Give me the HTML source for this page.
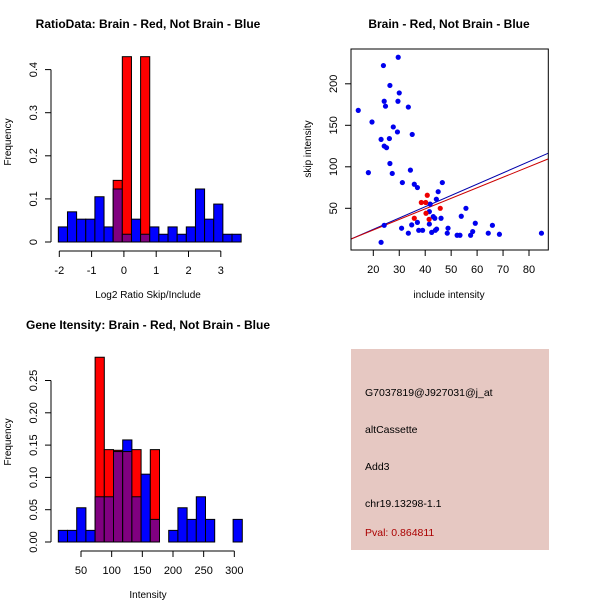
<!DOCTYPE html>
<html><head><meta charset="utf-8"><style>
body{margin:0;background:#fff}
svg{display:block;font-family:"Liberation Sans",sans-serif}
</style></head><body>
<svg id="c" width="600" height="600" viewBox="0 0 600 600">
<rect width="600" height="600" fill="#fff"/>
</svg>
<script>
// Panel 1: ratio histogram
const ratioBinStart = -2.03;
const ratioBinWidth = 0.283;
const ratioBlue = [0.035,0.07,0.053,0.053,0.105,0.035,0.123,0.018,0.053,0.018,0.035,0.018,0.035,0.018,0.035,0.123,0.053,0.088,0.018,0.018];
const ratioRed  = [0,0,0,0,0,0,0.143,0.43,0,0.43,0,0,0,0,0,0,0,0,0,0];
const ratioXTicks = [-2,-1,0,1,2,3];
const ratioYTicks = [0,0.1,0.2,0.3,0.4];
// Panel 3: intensity histogram
const intBinStart = 13;
const intBinWidth = 15;
const intBlue = [0.018,0.018,0.053,0.018,0.07,0.07,0.14,0.158,0.07,0.105,0.035,0,0.018,0.053,0.035,0.07,0.035,0,0,0.035];
const intRed  = [0,0,0,0,0.286,0.143,0.142,0.14,0.143,0,0.143,0,0,0,0,0,0,0,0,0];
const intXTicks = [50,100,150,200,250,300];
const intYTicks = [0,0.05,0.10,0.15,0.20,0.25];
const intYLabels = ["0.00","0.05","0.10","0.15","0.20","0.25"];
// Panel 2: scatter
const notBrainX = [14.2,23.9,29.6,26.4,30,24.2,24.7,29.5,33.5,19.5,27.7,29.3,35,23,26.2,24.2,25.1,18.1,26.4,27.3,34.3,31.2,35.8,37,46.6,45,44.3,41.9,41.6,43.1,43.7,46.1,53.9,55.7,24.2,30.9,34.8,33.5,37,37.5,39,41.6,42.5,43.9,44.4,48.8,48.5,52.3,53.4,57.5,58.3,59.3,64.3,65.9,68.6,84.8,23];
const notBrainY = [168,222,232,198,189,179,173,179,172,154,148,142,139,133,134,125,123,93,104,92,96,81,79,75,81,70,61,55,46,40,38,38,40.4,50,29.5,26,30,20,33,23.5,23.5,31,21,23.5,25,26,20,17.5,17.5,17.5,22,32,20,29.5,18.7,20,9];
const brainX = [40.8,38.5,40.2,45.8,40.3,35.8,41.5];
const brainY = [65.7,57,57,50,44,38,36.7];
const fitBlue = [-2.5,1.36];
const fitRed = [-1.5,1.27];
const scXTicks = [20,30,40,50,60,70,80];
const scYTicks = [50,100,150,200];
const infoLines = ["G7037819@J927031@j_at","altCassette","Add3","chr19.13298-1.1"];
const pvalText = "Pval: 0.864811";

const svg = document.getElementById('c');
const NS = 'http://www.w3.org/2000/svg';
function mk(tag, attrs, parent){const e=document.createElementNS(NS,tag);for(const k in attrs)e.setAttribute(k,attrs[k]);(parent||svg).appendChild(e);return e;}
function txt(s, attrs, parent){const e=mk('text',attrs,parent);e.textContent=s;return e;}

function histogram(cfg){
  const g=mk('g',{});
  
  
  const sx=v=>cfg.x0+(v-cfg.xv0)*cfg.xs;
  const sy=v=>cfg.y0-v*cfg.ys;
  cfg.blue.forEach((b,i)=>{
    const r=cfg.red[i];
    const a=cfg.start+i*cfg.w, x1=sx(a), x2=sx(a+cfg.w);
    const hi=Math.max(b,r), lo=Math.min(b,r);
    if(hi>0){
      const rc=mk('rect',{x:x1,y:sy(hi),width:x2-x1,height:sy(0)-sy(hi),fill:b>=r?'#0000ff':'#ff0000',stroke:'#000','stroke-width':1},g);
      
      
    }
    if(lo>0){
      const pc=mk('rect',{x:x1,y:sy(lo),width:x2-x1,height:sy(0)-sy(lo),fill:'#800080',stroke:'#000','stroke-width':1},g);
      
      
    }
  });
  // y axis
  const yt=cfg.yTicks;
  mk('line',{x1:cfg.yAxisX,x2:cfg.yAxisX,y1:sy(yt[0]),y2:sy(yt[yt.length-1]),stroke:'#000'},g);
  yt.forEach((t,i)=>{
    mk('line',{x1:cfg.yAxisX-6,x2:cfg.yAxisX,y1:sy(t),y2:sy(t),stroke:'#000'},g);
    const lx=cfg.yAxisX-14, ly=sy(t);
    txt(cfg.yLabels?cfg.yLabels[i]:String(t),{x:lx,y:ly,'font-size':11,'text-anchor':'middle',transform:`rotate(-90 ${lx} ${ly})`},g);
  });
  const xt=cfg.xTicks, ay=cfg.y0+9;
  mk('line',{x1:sx(xt[0]),x2:sx(xt[xt.length-1]),y1:ay,y2:ay,stroke:'#000'},g);
  xt.forEach(t=>{
    mk('line',{x1:sx(t),x2:sx(t),y1:ay,y2:ay+6,stroke:'#000'},g);
    txt(String(t),{x:sx(t),y:ay+23,'font-size':11,'text-anchor':'middle'},g);
  });
  const tt=txt(cfg.title,{x:148,y:cfg.titleY,'font-size':12,'font-weight':'bold','text-anchor':'middle'});
  
  
  const xl=txt(cfg.xlab,{x:148,y:cfg.y0+56,'font-size':10,'text-anchor':'middle'});
  
  
  const yx=11, yy=cfg.y0-100;
  const yl=txt('Frequency',{x:yx,y:yy,'font-size':10,'text-anchor':'middle',transform:`rotate(-90 ${yx} ${yy})`});
  
  
}

histogram({name:'ratio-histogram',blue:ratioBlue,red:ratioRed,start:ratioBinStart,w:ratioBinWidth,
  x0:59.3,xv0:-2,xs:32.3,y0:242,ys:431,yAxisX:51,yTicks:ratioYTicks,xTicks:ratioXTicks,
  title:'RatioData: Brain - Red, Not Brain - Blue',titleY:28,xlab:'Log2 Ratio Skip/Include'});
histogram({name:'intensity-histogram',blue:intBlue,red:intRed,start:intBinStart,w:intBinWidth,
  x0:81,xv0:50,xs:0.6133,y0:542,ys:646,yAxisX:51,yTicks:intYTicks,yLabels:intYLabels,xTicks:intXTicks,
  title:'Gene Itensity: Brain - Red, Not Brain - Blue',titleY:329,xlab:'Intensity'});

// scatter
(function(){
  const g=mk('g',{});
  
  
  const L=351,R=548.3,T=49,B=250;
  const sx=v=>373.3+(v-20)*2.595;
  const sy=v=>208.3-(v-50)*0.83;
  const clip=mk('clipPath',{id:'scclip'},g);
  mk('rect',{x:L,y:T,width:R-L,height:B-T},clip);
  const xv0=(L-373.3)/2.595+20, xv1=(R-373.3)/2.595+20;
  [[fitBlue,'#0000aa','fit-line-not-brain'],[fitRed,'#cc0000','fit-line-brain']].forEach(([f,c,n])=>{
    const ln=mk('line',{x1:sx(xv0),y1:sy(f[0]+f[1]*xv0),x2:sx(xv1),y2:sy(f[0]+f[1]*xv1),stroke:c,'stroke-width':1,'clip-path':'url(#scclip)'},g);
    
    
  });
  notBrainX.forEach((x,i)=>{
    const p=mk('circle',{cx:sx(x),cy:sy(notBrainY[i]),r:2.6,fill:'#0000ee'},g);
    
    
  });
  brainX.forEach((x,i)=>{
    const p=mk('circle',{cx:sx(x),cy:sy(brainY[i]),r:2.6,fill:'#ee0000'},g);
    
    
  });
  mk('rect',{x:L,y:T,width:R-L,height:B-T,fill:'none',stroke:'#000'},g);
  scXTicks.forEach(t=>{
    mk('line',{x1:sx(t),x2:sx(t),y1:B,y2:B+6,stroke:'#000'},g);
    txt(String(t),{x:sx(t),y:B+23,'font-size':11,'text-anchor':'middle'},g);
  });
  scYTicks.forEach(t=>{
    mk('line',{x1:L-6,x2:L,y1:sy(t),y2:sy(t),stroke:'#000'},g);
    const lx=L-14, ly=sy(t);
    txt(String(t),{x:lx,y:ly,'font-size':11,'text-anchor':'middle',transform:`rotate(-90 ${lx} ${ly})`},g);
  });
  const tt=txt('Brain - Red, Not Brain - Blue',{x:449,y:28,'font-size':12,'font-weight':'bold','text-anchor':'middle'});
  
  
  const xl=txt('include intensity',{x:449,y:298,'font-size':10,'text-anchor':'middle'});
  
  
  const yl=txt('skip intensity',{x:311,y:149,'font-size':10,'text-anchor':'middle',transform:'rotate(-90 311 149)'});
  
  
})();

// info panel
(function(){
  const g=mk('g',{});
  
  
  mk('rect',{x:351,y:349,width:198,height:201,fill:'#e6c8c2'},g);
  infoLines.forEach((s,i)=>{
    const t=txt(s,{x:365,y:396+i*37,'font-size':10.5,fill:'#000'},g);
    
    
  });
  const p=txt(pvalText,{x:365,y:536,'font-size':10.5,fill:'#aa0000'},g);
  
  
})();
</script>
</body></html>
